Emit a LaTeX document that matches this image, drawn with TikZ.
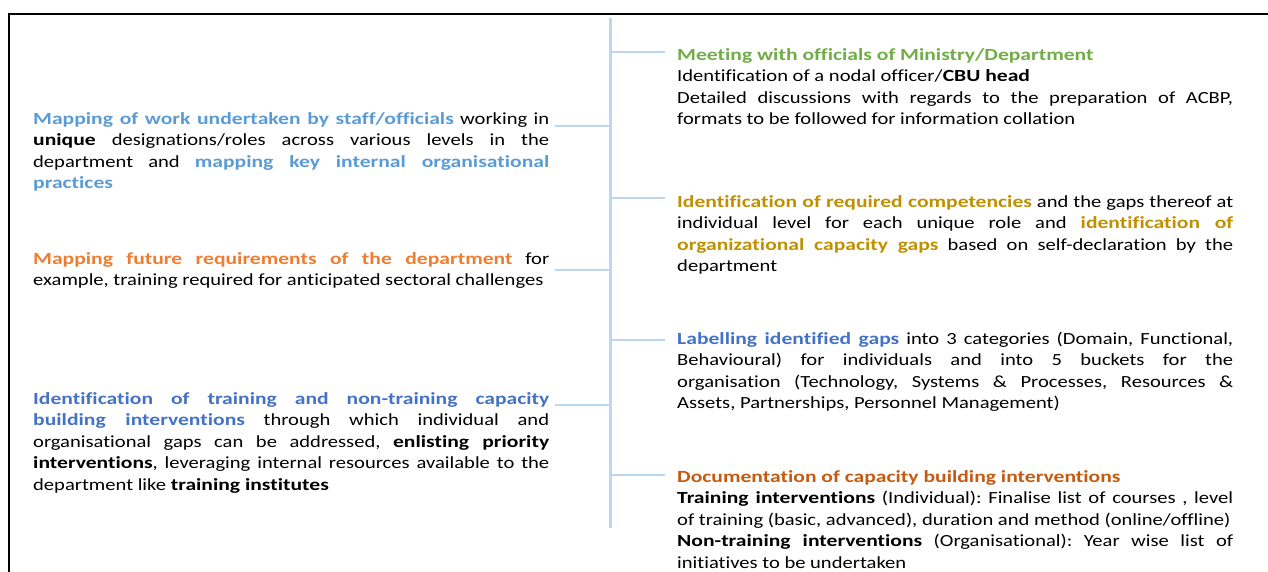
\documentclass[tikz,border=0pt]{standalone}
\usepackage{fontspec}
\setmainfont{Carlito}[FakeStretch=1.21, Ligatures=NoCommon, BoldFeatures={FakeStretch=1.27}]
\frenchspacing
\usetikzlibrary{calc}
\definecolor{cLight}{HTML}{5B9BD5}
\definecolor{cOrange}{HTML}{ED7D31}
\definecolor{cBlue}{HTML}{4472C4}
\definecolor{cGreen}{HTML}{70AD47}
\definecolor{cGold}{HTML}{BF9000}
\definecolor{cBrown}{HTML}{C55A11}
\definecolor{cLine}{HTML}{BDD7EE}
\tikzset{
  txt/.style={anchor=north west, inner sep=0pt, align=justify,
    font=\fontsize{17}{21.5}\selectfont, execute at begin node={\frenchspacing\hyphenpenalty=10000\exhyphenpenalty=10000\strut}},
  lefttxt/.style={txt, text width=516pt},
  righttxt/.style={txt, text width=556pt},
  spine/.style={draw=cLine, line width=3pt},
  tick/.style={draw=cLine, line width=2pt},
  frame/.style={draw=black, line width=2pt}
}
\begin{document}
\begin{tikzpicture}[x=1pt,y=-1pt]
\useasboundingbox (0,0) rectangle (1268,572);
\draw[frame] (9,572) -- (9,14) -- (1268,14);
\coordinate (spinetop) at (610,18);
\coordinate (spinebot) at (610,528);
\draw[spine] (spinetop) -- (spinebot);
% left blocks
\node[lefttxt] (l1) at (33,109) {\textbf{\color{cLight}Mapping of work undertaken by staff/officials} working in\linebreak \textbf{unique} designations/roles across various levels in the\linebreak department and \textbf{\color{cLight}mapping key internal organisational}\linebreak \textbf{\color{cLight}practices}};
\node[lefttxt] (l2) at (33,249) {\textbf{\color{cOrange}Mapping future requirements of the department} for\linebreak example, training required for anticipated sectoral challenges};
\node[lefttxt] (l3) at (33,389) {\textbf{\color{cBlue}Identification of training and non-training capacity}\linebreak \textbf{\color{cBlue}building interventions} through which individual and\linebreak organisational gaps can be addressed, \textbf{enlisting priority}\linebreak \textbf{interventions}, leveraging internal resources available to the\linebreak department like \textbf{training institutes}};
% right blocks
\node[righttxt] (r1) at (677,45) {\textbf{\color{cGreen}Meeting with officials of Ministry/Department}\par\strut Identification of a nodal officer/\textbf{CBU head}\par\strut Detailed discussions with regards to the preparation of ACBP,\linebreak formats to be followed for information collation};
\node[righttxt] (r2) at (677,192) {\textbf{\color{cGold}Identification of required competencies} and the gaps thereof at\linebreak individual level for each unique role and \textbf{\color{cGold}identification of}\linebreak \textbf{\color{cGold}organizational capacity gaps} based on self-declaration by the\linebreak department};
\node[righttxt] (r3) at (677,329) {\textbf{\color{cBlue}Labelling identified gaps} into 3 categories (Domain, Functional,\linebreak Behavioural) for individuals and into 5 buckets for the\linebreak organisation (Technology, Systems \& Processes, Resources \&\linebreak Assets, Partnerships, Personnel Management)};
\node[righttxt] (r4) at (677,467) {\textbf{\color{cBrown}Documentation of capacity building interventions}\par\strut \textbf{Training interventions} (Individual): Finalise list of courses , level\linebreak of training (basic, advanced), duration and method (online/offline)\par\strut \textbf{Non-training interventions} (Organisational): Year wise list of\linebreak initiatives to be undertaken};
% ticks
\coordinate (tl1) at (555,126);
\coordinate (tl2) at (555,270);
\coordinate (tl3) at (555,405);
\coordinate (tr1) at (665,52);
\coordinate (tr2) at (665,198);
\coordinate (tr3) at (665,340);
\coordinate (tr4) at (665,475);
\foreach \t in {tl1,tl2,tl3} \draw[tick] (\t) -- (\t -| spinetop);
\foreach \t in {tr1,tr2,tr3,tr4} \draw[tick] (\t -| spinetop) -- (\t);
\end{tikzpicture}
\end{document}
